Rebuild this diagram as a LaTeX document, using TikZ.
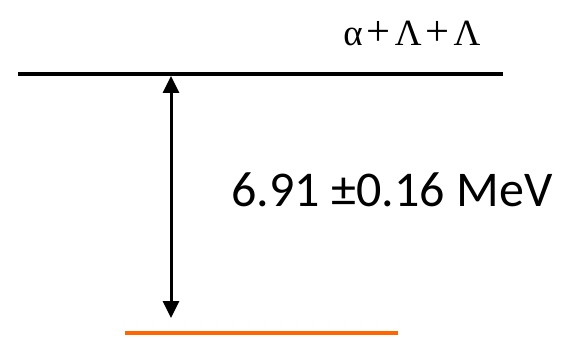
\documentclass[tikz,border=0pt]{standalone}
\usepackage{fontspec}
\newfontfamily\calib{Carlito}
\newfontfamily\tms{Liberation Serif}
\usetikzlibrary{arrows.meta}
\definecolor{lvlorange}{RGB}{255,102,0}
\begin{document}
\begin{tikzpicture}[x=1pt,y=1pt,
  level/.style={line width=4pt},
  gap/.style={line width=3pt,{Triangle[width=16pt,length=17pt]}-{Triangle[width=16pt,length=17pt]}}]
\useasboundingbox (0,0) rectangle (577,337);
\coordinate (t1) at (18,263);
\coordinate (t2) at (503,263);
\coordinate (b1) at (125,4);
\coordinate (b2) at (398,4);
\draw[level] (t1) -- (t2);
\draw[level,lvlorange] (b1) -- (b2);
\coordinate (at) at (171,261);
\coordinate (ab) at (171,19);
\draw[gap] (at) -- (ab);
\node[anchor=base,inner sep=0pt,font=\tms\fontsize{37}{42}\selectfont] (lab) at (412,291) {α\kern4pt\scalebox{1.15}{+}\kern4ptΛ\kern4pt\scalebox{1.15}{+}\kern4ptΛ};
\node[anchor=base,inner sep=0pt,font=\calib\fontsize{50}{58}\selectfont] (e) at (392,130) {6.91 ±0.16 MeV};
\end{tikzpicture}
\end{document}
